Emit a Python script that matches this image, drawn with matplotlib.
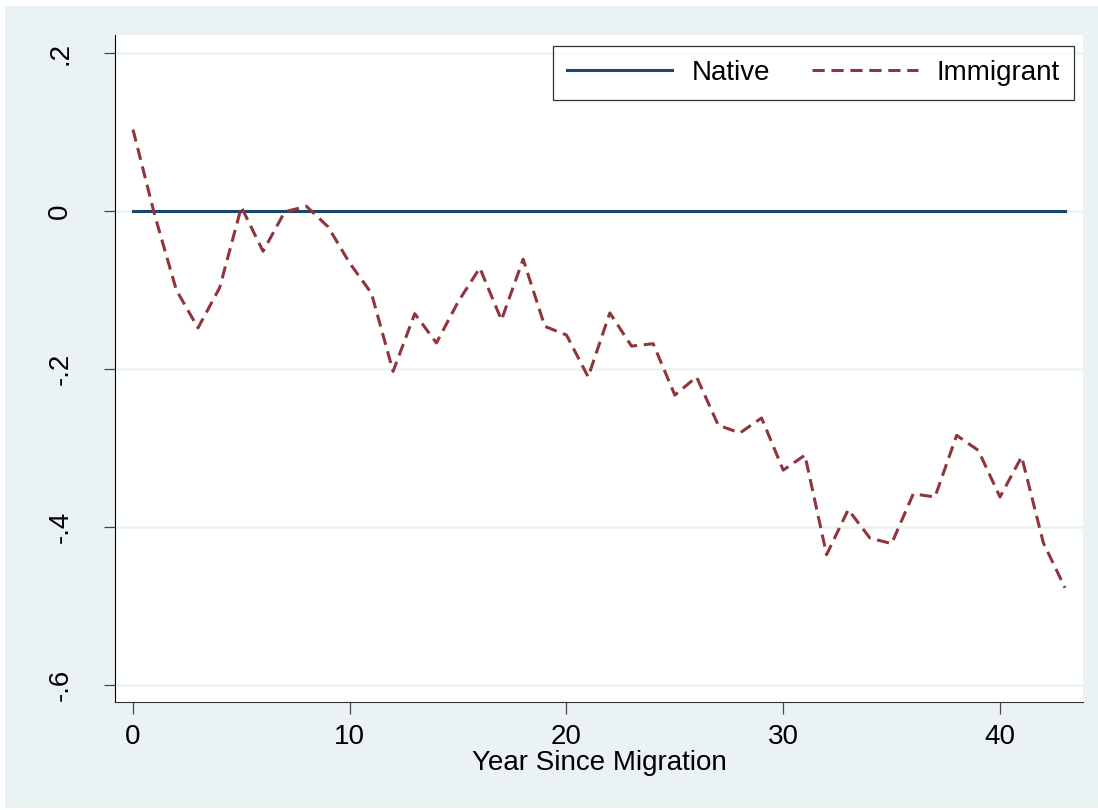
import numpy as np
import matplotlib
matplotlib.use('Agg')
import matplotlib.pyplot as plt
from matplotlib.patches import Rectangle

# datos
years = list(range(44))
native = [0.0] * 44
immigrant = [0.103, -0.005, -0.100, -0.148, -0.097, 0.005, -0.051, -0.001, 0.006, -0.020,
             -0.066, -0.104, -0.203, -0.130, -0.167, -0.115, -0.072, -0.138, -0.061, -0.146,
             -0.157, -0.210, -0.129, -0.171, -0.168, -0.233, -0.210, -0.271, -0.281, -0.262,
             -0.328, -0.309, -0.435, -0.378, -0.414, -0.421, -0.358, -0.362, -0.284, -0.303,
             -0.362, -0.311, -0.420, -0.477]
yticks = [0.2, 0, -0.2, -0.4, -0.6]
ylabels = ['.2', '0', '-.2', '-.4', '-.6']
xticks = [0, 10, 20, 30, 40]

plt.rcParams['font.family'] = ['Liberation Sans', 'DejaVu Sans']

W, H = 1098, 810
fig = plt.figure(figsize=(W / 100, H / 100), dpi=100, facecolor='white')
# fondo exterior estilo Stata
fig.patches.append(Rectangle((5 / W, 2 / H), 1 - 5 / W, 1 - 8 / H,
                             transform=fig.transFigure, facecolor='#eaf2f3',
                             edgecolor='none', zorder=-10))

ax = fig.add_axes([115 / W, 1 - 702 / H, (1083 - 115) / W, (702 - 35) / H])
ax.set_facecolor('white')

for v in yticks:
    ax.axhline(v, color='#eaf2f3', lw=1.8, zorder=1)

ax.plot(years, native, color='#1a476f', lw=2.2, label='Native', zorder=3)
ax.plot(years, immigrant, color='#90353b', lw=2.2, dashes=(4, 2.2),
        label='Immigrant', zorder=3)

ax.set_xlim(-0.83, 43.83)
ax.set_ylim(-0.6215, 0.2228)
ax.set_xticks(xticks)
ax.set_yticks(yticks)
ax.set_yticklabels(ylabels, rotation=90, va='center')

ax.spines['top'].set_visible(False)
ax.spines['right'].set_visible(False)
ax.spines['left'].set_color('black')
ax.spines['bottom'].set_color('#333333')
ax.tick_params(axis='x', length=8.5, width=0.9, color='#444444', labelsize=20, pad=7)
ax.tick_params(axis='y', length=8, width=0.9, color='#444444', labelsize=20, pad=22)

ax.set_xlabel('Year Since Migration', fontsize=20, labelpad=0)

leg = ax.legend(loc='upper right', bbox_to_anchor=(1074 / W, 1 - 46 / H),
                bbox_transform=fig.transFigure, borderaxespad=0, ncol=2,
                fontsize=20, frameon=True, fancybox=False, handlelength=3.8,
                handletextpad=0.7, columnspacing=1.5, borderpad=0.5)
leg.get_frame().set_edgecolor('black')
leg.get_frame().set_linewidth(0.9)

fig.savefig('out.png', dpi=100, facecolor=fig.get_facecolor())
